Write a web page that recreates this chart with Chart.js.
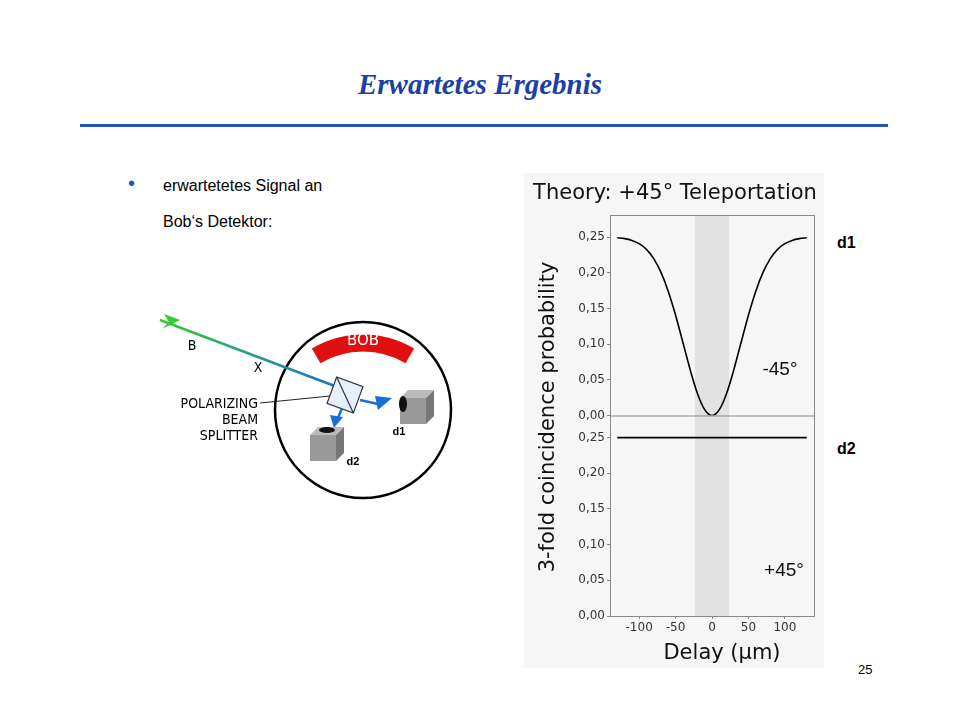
<!DOCTYPE html>
<html><head><meta charset="utf-8">
<script src="https://cdn.jsdelivr.net/npm/chart.js@4"></script>
<style>
body{margin:0;width:960px;height:720px;background:#fff;position:relative;overflow:hidden;font-family:"Liberation Sans",Arial,sans-serif}
.abs{position:absolute}
#title{left:0;width:960px;top:68px;text-align:center;font:italic bold 29px "Liberation Serif",serif;color:#1a3fa6}
#rule{left:80px;top:124px;width:808px;height:3px;background:#1f56b8}
#panel{left:524px;top:173px;width:300px;height:495px;background:#f6f6f6}
</style></head><body>
<div id="title" class="abs">Erwartetes Ergebnis</div>
<div id="rule" class="abs"></div>
<div class="abs" style="left:128px;top:172px;font-size:20px;color:#1f56b8">•</div>
<div class="abs" style="left:163px;top:177px;font-size:16px">erwartetetes Signal an</div>
<div class="abs" style="left:163px;top:213px;font-size:16px">Bob‘s Detektor:</div>
<div class="abs" style="left:837px;top:234px;font-size:16px;font-weight:bold">d1</div>
<div class="abs" style="left:837px;top:440px;font-size:16px;font-weight:bold">d2</div>
<div class="abs" style="left:858px;top:662px;font-size:13px">25</div>
<canvas id="diag" class="abs" width="320" height="220" style="left:150px;top:300px"></canvas>
<div id="panel" class="abs"><canvas id="c" width="300" height="495"></canvas></div>
<script>
const delays=[-130,-120,-110,-100,-90,-80,-70,-60,-50,-40,-30,-20,-10,0,10,20,30,40,50,60,70,80,90,100,110,120,130];
const probMinus45=[0.2491,0.2479,0.2454,0.2408,0.2328,0.2199,0.2005,0.1739,0.1406,0.1027,0.0643,0.0309,0.0082,0,0.0082,0.0309,0.0643,0.1027,0.1406,0.1739,0.2005,0.2199,0.2328,0.2408,0.2454,0.2479,0.2491];
const probPlus45=[0.25,0.25,0.25,0.25,0.25,0.25,0.25,0.25,0.25,0.25,0.25,0.25,0.25,0.25,0.25,0.25,0.25,0.25,0.25,0.25,0.25,0.25,0.25,0.25,0.25,0.25,0.25];
const xTicks=[-100,-50,0,50,100];
const yTicks=[0,0.05,0.10,0.15,0.20,0.25];
const band=[-23.5,23.5];

// diagram
(function(){
 const g=document.getElementById('diag').getContext('2d');
 const cx=213,cy=110,r=88;
 g.lineWidth=2.5;g.strokeStyle='#000';g.beginPath();g.arc(cx,cy,r,0,Math.PI*2);g.stroke();
 g.strokeStyle='#e01010';g.lineWidth=17;g.beginPath();g.arc(cx,cy+25,r+4,Math.PI*1.33,Math.PI*1.67);g.stroke();
 g.fillStyle='#fff';g.font='15px "DejaVu Sans"';g.textAlign='center';g.fillText('BOB',cx,45);
 let gr=g.createLinearGradient(10,20,190,90);gr.addColorStop(0,'#33cc33');gr.addColorStop(1,'#1a6fd6');
 g.strokeStyle=gr;g.lineWidth=2.5;g.beginPath();g.moveTo(10,20);g.lineTo(190,88);g.stroke();
 g.fillStyle='#33cc33';g.beginPath();g.moveTo(30,20);g.lineTo(14,14);g.lineTo(19,22);g.lineTo(12,29);g.fill();
 g.save();g.translate(195,95);g.rotate(0.35);g.fillStyle='#e6f0fa';g.fillRect(-14,-14,28,28);g.strokeStyle='#333';g.lineWidth=1.2;g.strokeRect(-14,-14,28,28);g.beginPath();g.moveTo(-14,-14);g.lineTo(14,14);g.stroke();g.restore();
 g.strokeStyle='#1a6fd6';g.fillStyle='#1a6fd6';g.lineWidth=2.5;
 g.beginPath();g.moveTo(210,100);g.lineTo(228,104);g.stroke();g.beginPath();g.moveTo(242,98);g.lineTo(225,96);g.lineTo(228,110);g.fill();
 g.beginPath();g.moveTo(192,108);g.lineTo(188,118);g.stroke();g.beginPath();g.moveTo(184,128);g.lineTo(180,115);g.lineTo(193,117);g.fill();
 function box(x,y){g.fillStyle='#999';g.fillRect(x,y,26,26);g.fillStyle='#bbb';g.beginPath();g.moveTo(x,y);g.lineTo(x+8,y-8);g.lineTo(x+34,y-8);g.lineTo(x+26,y);g.fill();g.fillStyle='#777';g.beginPath();g.moveTo(x+26,y);g.lineTo(x+34,y-8);g.lineTo(x+34,y+18);g.lineTo(x+26,y+26);g.fill();}
 box(250,98);g.fillStyle='#111';g.beginPath();g.ellipse(253,104,4,8,0,0,7);g.fill();
 box(160,135);g.fillStyle='#111';g.beginPath();g.ellipse(177,130,8,3,0,0,7);g.fill();
 g.fillStyle='#000';g.font='bold 11px "Liberation Sans"';g.fillText('d1',249,135);g.fillText('d2',203,165);
 g.font='14px "DejaVu Sans Condensed"';g.fillText('B',42,50);g.fillText('X',108,72);
 g.textAlign='right';g.font='14px "DejaVu Sans Condensed"';g.fillText('POLARIZING',108,108);g.fillText('BEAM',108,124);g.fillText('SPLITTER',108,140);
 g.strokeStyle='#222';g.lineWidth=1;g.beginPath();g.moveTo(110,103);g.lineTo(180,96);g.stroke();
})();

const fmt=v=>v.toFixed(2).replace('.',',');
const yAxis=()=>({type:'linear',stack:'s',offset:false,min:0,max:0.281,position:'left',
 afterBuildTicks:a=>{a.ticks=yTicks.map(v=>({value:v}))},
 afterFit:s=>{s.width=86},
 border:{color:'#888',width:1},
 grid:{drawOnChartArea:false,tickLength:3,color:'#888'},
 ticks:{callback:fmt,color:'#333',font:{family:'"DejaVu Sans"',size:12},padding:2}});
const plug={id:'p',
 beforeDatasetsDraw(c){const g=c.ctx,x=c.scales.x,a=c.chartArea;g.save();g.fillStyle='#e2e2e2';
  g.fillRect(x.getPixelForValue(band[0]),a.top,x.getPixelForValue(band[1])-x.getPixelForValue(band[0]),a.bottom-a.top);g.restore();},
 afterDraw(c){const g=c.ctx,a=c.chartArea;const sep=Math.min(c.scales.yTop.bottom,c.scales.yBot.bottom);g.save();g.strokeStyle='#888';g.lineWidth=1;
  g.strokeRect(a.left+0.5,a.top+0.5,a.right-a.left,a.bottom-a.top);
  g.beginPath();g.moveTo(a.left,sep+0.5);g.lineTo(a.right,sep+0.5);g.stroke();
  g.fillStyle='#111';g.textAlign='center';g.font='21px "DejaVu Sans"';g.fillText('Theory: +45° Teleportation',151,26);
  g.fillText('Delay (µm)',198,486);
  g.save();g.translate(30,244);g.rotate(-Math.PI/2);g.fillText('3-fold coincidence probability',0,0);g.restore();
  g.font='19px "Liberation Sans"';g.fillText('-45°',256,202);g.fillText('+45°',260,403);
  g.restore();}};
new Chart(document.getElementById('c'),{type:'line',
 data:{labels:delays,datasets:[
  {data:probMinus45,yAxisID:'yTop',borderColor:'#000',borderWidth:1.6,pointRadius:0,cubicInterpolationMode:'monotone'},
  {data:probPlus45,yAxisID:'yBot',borderColor:'#000',borderWidth:1.6,pointRadius:0}]},
 options:{responsive:false,animation:false,events:[],
  layout:{padding:{top:42,right:10,left:0,bottom:0}},
  plugins:{legend:{display:false},tooltip:{enabled:false}},
  scales:{
   x:{type:'linear',min:-140,max:140,afterBuildTicks:a=>{a.ticks=xTicks.map(v=>({value:v}))},
    afterFit:s=>{s.height=52},border:{color:'#888'},grid:{drawOnChartArea:false,tickLength:3,color:'#888'},
    ticks:{color:'#333',font:{family:'"DejaVu Sans"',size:12},padding:2,maxRotation:0}},
   yBot:yAxis(),yTop:yAxis()}},
 plugins:[plug]});
</script></body></html>
